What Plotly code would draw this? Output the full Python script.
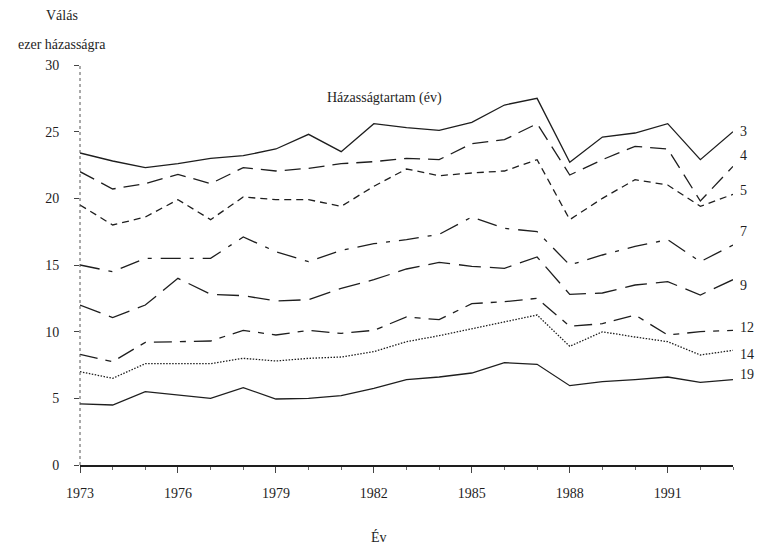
import plotly.graph_objects as go

years = list(range(1973, 1994))

series_names = ["3", "4", "5", "7", "9", "12", "14", "19"]

dur_3 = [23.4, 22.8, 22.3, 22.6, 23.0, 23.2, 23.7, 24.8, 23.5, 25.6, 25.3,
         25.1, 25.7, 27.0, 27.5, 22.7, 24.6, 24.9, 25.6, 22.9, 25.0]
dur_4 = [22.0, 20.7, 21.1, 21.8, 21.1, 22.3, 22.05, 22.25, 22.6, 22.75, 23.0,
         22.9, 24.1, 24.4, 25.6, 21.75, 22.9, 23.9, 23.7, 19.8, 22.4]
dur_5 = [19.5, 18.0, 18.6, 19.9, 18.4, 20.1, 19.9, 19.9, 19.4, 20.9, 22.2,
         21.7, 21.9, 22.05, 22.9, 18.4, 20.0, 21.4, 21.0, 19.4, 20.3]
dur_7 = [15.0, 14.5, 15.5, 15.5, 15.5, 17.1, 16.0, 15.25, 16.1, 16.6, 16.9,
         17.3, 18.6, 17.75, 17.5, 15.0, 15.75, 16.4, 16.9, 15.25, 16.5]
dur_9 = [12.0, 11.05, 12.0, 14.0, 12.8, 12.7, 12.3, 12.4, 13.25, 13.9, 14.7,
         15.2, 14.9, 14.75, 15.6, 12.8, 12.9, 13.5, 13.75, 12.75, 13.9]
dur_12 = [8.3, 7.75, 9.2, 9.25, 9.3, 10.1, 9.75, 10.1, 9.87, 10.1, 11.1,
          10.9, 12.1, 12.25, 12.5, 10.4, 10.6, 11.25, 9.75, 10.0, 10.1]
dur_14 = [7.0, 6.5, 7.6, 7.6, 7.6, 8.0, 7.8, 8.0, 8.1, 8.5, 9.25,
          9.7, 10.2, 10.75, 11.25, 8.9, 9.99, 9.6, 9.25, 8.25, 8.6]
dur_19 = [4.58, 4.5, 5.5, 5.25, 5.0, 5.8, 4.95, 5.0, 5.2, 5.75, 6.4,
          6.6, 6.9, 7.68, 7.55, 5.95, 6.25, 6.4, 6.6, 6.2, 6.4]

all_values = [dur_3, dur_4, dur_5, dur_7, dur_9, dur_12, dur_14, dur_19]

# label heights at the right edge (slightly off the last point, as in the print)
label_y = [25.05, 23.25, 20.6, 17.5, 13.5, 10.3, 8.3, 6.8]

dashes = ["solid", "16px,8px", "7px,5px", "20px,9px,4px,9px",
          "22px,9px", "18px,8px,6px,8px", "1.5px,1.5px", "solid"]

ink = "#1e1e1e"
font_family = "Liberation Serif"


def text_note(x, y, text, size=14):
    return dict(x=x, y=y, xref="paper", yref="paper", text=text,
                showarrow=False, xanchor="center", yanchor="middle",
                font=dict(size=size, color=ink, family=font_family))


fig = go.Figure()
for name, vals, dash in zip(series_names, all_values, dashes):
    fig.add_trace(go.Scatter(
        x=years,
        y=vals,
        mode="lines",
        name=name,
        line=dict(color=ink, width=1.3, dash=dash),
        showlegend=False,
    ))

annotations = []
for name, ly in zip(series_names, label_y):
    annotations.append(dict(
        x=years[-1], y=ly, xref="x", yref="y",
        text=name, showarrow=False,
        xanchor="left", yanchor="middle", xshift=5,
        font=dict(size=14, color=ink, family=font_family),
    ))

annotations += [
    text_note(0.466, 0.9175, "Házasságtartam (év)"),
    text_note(-0.027, 1.125, "Válás"),
    text_note(-0.027, 1.0525, "ezer házasságra"),
    text_note(0.458, -0.18, "Év"),
]

# the page body adds an 8px margin (and clips at its content width),
# so the figure is drawn smaller than the window
fig.update_layout(
    width=747,
    height=539,
    margin=dict(l=72, r=22, t=57, b=82),
    paper_bgcolor="white",
    plot_bgcolor="white",
    font=dict(family=font_family, size=14, color=ink),
    annotations=annotations,
    shapes=[dict(type="line", xref="paper", yref="paper",
                 x0=0, x1=0, y0=0, y1=1,
                 line=dict(color="#555", width=1, dash="dot"))],
    xaxis=dict(
        range=[1973, 1993],
        tick0=1973, dtick=3,
        ticks="outside", ticklen=6, tickcolor="#444", tickwidth=1,
        showline=True, linecolor=ink, linewidth=1.5,
        showgrid=False, zeroline=False,
        ticklabelstandoff=8,
        tickfont=dict(size=14, family=font_family, color=ink),
        minor=dict(dtick=1, ticks="outside", ticklen=3, tickcolor="#666"),
    ),
    yaxis=dict(
        range=[0, 30],
        tick0=0, dtick=5,
        ticks="outside", ticklen=5, tickcolor="#444",
        showline=False, showgrid=False, zeroline=False,
        ticklabelstandoff=12,
        tickfont=dict(size=14, family=font_family, color=ink),
    ),
)

fig.write_html("out.html")
